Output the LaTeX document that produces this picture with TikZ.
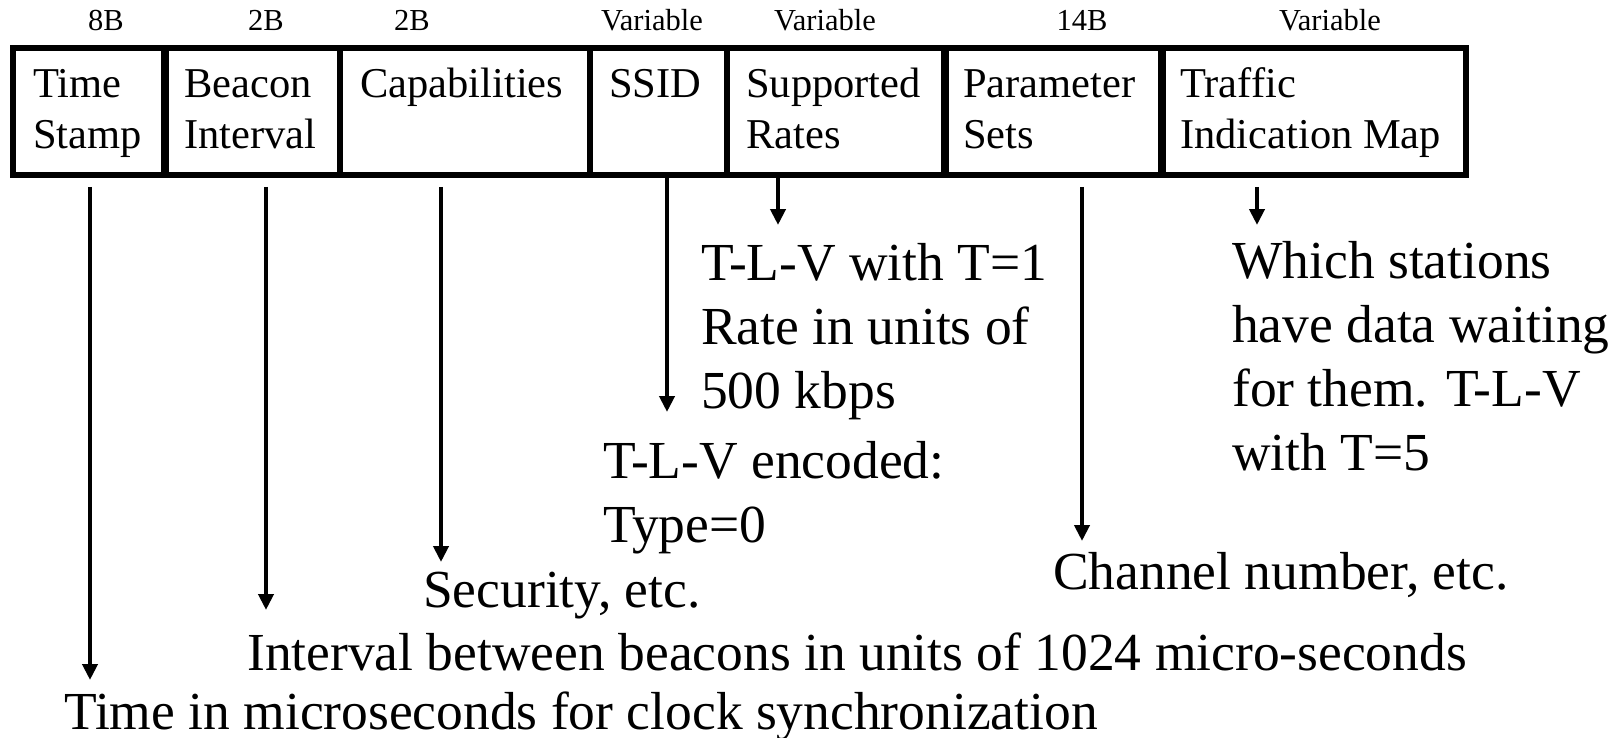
\documentclass[tikz,border=0pt]{standalone}
\usepackage{fontspec}
\setmainfont{Liberation Serif}
\usetikzlibrary{arrows.meta}
\begin{document}
\begin{tikzpicture}[x=1pt,y=-1pt,
  fieldbox/.style={draw=black, line width=5.5pt, minimum height=127pt, inner sep=0pt, outer sep=0pt, anchor=north west},
  thickdiv/.style={line width=8pt},
  fieldtxt/.style={font=\fontsize{42.5}{51}\selectfont, align=left, inner sep=0pt, anchor=base west},
  sizetxt/.style={font=\fontsize{30.5}{36}\selectfont, inner sep=0pt, anchor=base},
  desc/.style={font=\fontsize{53.5}{64}\selectfont, align=left, inner sep=0pt, anchor=base west},
  arr/.style={line width=4.5pt, -{Triangle[length=16pt,width=15pt]}}]
\useasboundingbox (0,0) rectangle (1616,738);
% field boxes
\node[fieldbox, minimum width=152pt] (ts)   at (13,48) {};
\node[fieldbox, minimum width=175pt] (bi)   at (165,48) {};
\node[fieldbox, minimum width=250pt] (cap)  at (340,48) {};
\node[fieldbox, minimum width=137pt] (ssid) at (590,48) {};
\node[fieldbox, minimum width=218pt] (sr)   at (727,48) {};
\node[fieldbox, minimum width=217pt] (ps)   at (945,48) {};
\node[fieldbox, minimum width=304pt] (tim)  at (1162,48) {};
\draw[thickdiv] (ts.north east) -- (ts.south east);
\draw[thickdiv] (ps.north west) -- (ps.south west);
\draw[thickdiv] (tim.north west) -- (tim.south west);
% field names (base = baseline of last line)
\node[fieldtxt] (tsT)   at (33,149)   {Time\\Stamp};
\node[fieldtxt] (biT)   at (184,149)  {Beacon\\Interval};
\node[fieldtxt] (capT)  at (360,98)   {Capabilities};
\node[fieldtxt] (ssidT) at (609,98)   {SSID};
\node[fieldtxt] (srT)   at (746,149)  {Supported\\Rates};
\node[fieldtxt] (psT)   at (963,149)  {Parameter\\Sets};
\node[fieldtxt] (timT)  at (1180,149) {Traffic\\Indication Map};
% sizes
\node[sizetxt] (z1) at (106,31)  {8B};
\node[sizetxt] (z2) at (266,31)  {2B};
\node[sizetxt] (z3) at (412,31)  {2B};
\node[sizetxt] (z4) at (652,31)  {Variable};
\node[sizetxt] (z5) at (825,31)  {Variable};
\node[sizetxt] (z6) at (1082,31) {14B};
\node[sizetxt] (z7) at (1330,31) {Variable};
% descriptions
\node[desc] (d1) at (64,729)   {Time in microseconds for clock synchronization};
\node[desc] (d2) at (247,670)  {Interval between beacons in units of 1024 micro-seconds};
\node[desc] (d3) at (423,607)  {Security, etc.};
\node[desc] (d4) at (603,542)  {T-L-V encoded:\\Type=0};
\node[desc] (d5) at (701,408)  {T-L-V with T=1\\Rate in units of\\500 kbps};
\node[desc] (d6) at (1053,589) {Channel number, etc.};
\node[desc] (d7) at (1232,470) {Which stations\\have data waiting\\for them. T-L-V\\with T=5};
% arrow end points
\coordinate (s1) at (90,187);   \coordinate (e1) at (90,680);
\coordinate (s2) at (266,187);  \coordinate (e2) at (266,610);
\coordinate (s3) at (441,187);  \coordinate (e3) at (441,562);
\coordinate (s4) at (667,175);  \coordinate (e4) at (667,412);
\coordinate (s5) at (778,175);  \coordinate (e5) at (778,225);
\coordinate (s6) at (1082,187); \coordinate (e6) at (1082,541);
\coordinate (s7) at (1257,187); \coordinate (e7) at (1257,225);
\draw[arr] (s1) -- (e1);
\draw[arr] (s2) -- (e2);
\draw[arr] (s3) -- (e3);
\draw[arr] (s4) -- (e4);
\draw[arr] (s5) -- (e5);
\draw[arr] (s6) -- (e6);
\draw[arr] (s7) -- (e7);
\end{tikzpicture}
\end{document}
